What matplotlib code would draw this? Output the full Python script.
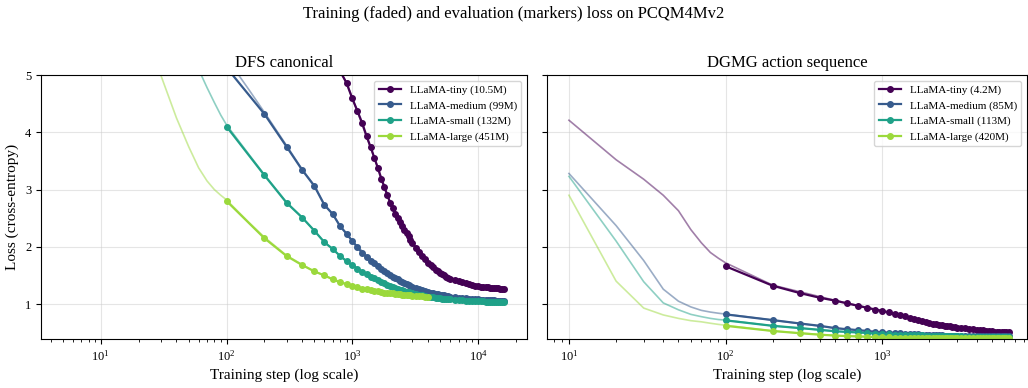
import numpy as np
import matplotlib
matplotlib.use("Agg")
import matplotlib.pyplot as plt

plt.rcParams["font.family"] = ["Liberation Serif", "DejaVu Serif"]
plt.rcParams["mathtext.fontset"] = "stix"

# ---- DFS canonical (left) ----
dfs_labels = ["LLaMA-tiny (10.5M)", "LLaMA-medium (99M)", "LLaMA-small (132M)", "LLaMA-large (451M)"]

dfs_train_steps = [10, 20, 30, 40, 50, 60, 70, 80, 90, 100, 150, 200, 300, 400, 500, 600, 700, 800, 900,
                   1000, 1500, 2000, 3000, 4000, 5000, 7000, 10000, 16000]
dfs_train_tiny = [10.5, 9.8, 9.2, 8.8, 8.4, 8.1, 7.8, 7.6, 7.4, 7.2, 6.7, 6.4, 5.9, 5.6, 5.4, 5.25, 5.15, 5.05,
                  4.87, 4.6, 3.55, 2.78, 2.07, 1.72, 1.55, 1.40, 1.31, 1.27]
dfs_train_medium = [10.3, 9.4, 8.7, 8.1, 7.6, 7.1, 6.6, 6.1, 5.7, 5.3, 4.75, 4.35, 3.77, 3.35, 3.07, 2.74,
                    2.57, 2.36, 2.23, 2.10, 1.71, 1.51, 1.30, 1.21, 1.16, 1.11, 1.08, 1.06]
dfs_train_small = [10.0, 8.6, 7.4, 6.4, 5.6, 5.1, 4.78, 4.52, 4.3, 4.13, 3.62, 3.26, 2.78, 2.51, 2.28, 2.08,
                   1.96, 1.84, 1.75, 1.68, 1.45, 1.31, 1.19, 1.13, 1.10, 1.07, 1.05, 1.035]
dfs_train_large = [9.0, 6.6, 5.0, 4.25, 3.75, 3.38, 3.15, 3.0, 2.9, 2.82, 2.43, 2.17, 1.85, 1.69, 1.57, 1.50,
                   1.44, 1.39, 1.35, 1.32, 1.235, 1.19, 1.15, 1.13]

dfs_eval_steps = (list(range(100, 3001, 100)) + list(range(3200, 6001, 200))
                  + list(range(6500, 16001, 500)))
dfs_eval_tiny = [7.3, 6.5, 6.0, 5.7, 5.5, 5.33, 5.2, 5.07, 4.86, 4.59, 4.37, 4.16, 3.93, 3.74, 3.55, 3.37,
                 3.19, 3.04, 2.90, 2.77, 2.67, 2.58, 2.50, 2.43, 2.37, 2.30, 2.24, 2.18, 2.12, 2.07,
                 1.98, 1.91, 1.84, 1.78, 1.72, 1.68, 1.64, 1.60, 1.57, 1.54, 1.52, 1.50, 1.48, 1.46, 1.445,
                 1.42, 1.40, 1.38, 1.36, 1.345, 1.33, 1.32, 1.31, 1.305, 1.30, 1.295, 1.29, 1.285, 1.28,
                 1.28, 1.275, 1.275, 1.27, 1.27, 1.27]
dfs_eval_medium = [5.13, 4.32, 3.75, 3.34, 3.06, 2.73, 2.57, 2.36, 2.23, 2.10, 1.99, 1.89, 1.82, 1.76, 1.71,
                   1.66, 1.62, 1.58, 1.545, 1.51, 1.48, 1.455, 1.43, 1.41, 1.39, 1.37, 1.35, 1.335, 1.32, 1.305,
                   1.28, 1.26, 1.24, 1.225, 1.21, 1.20, 1.19, 1.18, 1.17, 1.16, 1.155, 1.15, 1.14, 1.135, 1.13,
                   1.12, 1.11, 1.105, 1.10, 1.095, 1.09, 1.085, 1.08, 1.078, 1.075, 1.072, 1.07, 1.068, 1.066,
                   1.064, 1.062, 1.061, 1.06, 1.06, 1.06]
dfs_eval_small = [4.10, 3.25, 2.77, 2.51, 2.28, 2.08, 1.96, 1.84, 1.75, 1.68, 1.62, 1.56, 1.52, 1.48, 1.45,
                  1.42, 1.39, 1.36, 1.335, 1.31, 1.295, 1.28, 1.265, 1.25, 1.24, 1.23, 1.215, 1.205, 1.195, 1.19,
                  1.175, 1.16, 1.15, 1.14, 1.13, 1.125, 1.12, 1.11, 1.105, 1.10, 1.095, 1.09, 1.087, 1.084, 1.08,
                  1.075, 1.07, 1.066, 1.062, 1.059, 1.056, 1.053, 1.05, 1.048, 1.046, 1.044, 1.042, 1.041, 1.04,
                  1.039, 1.038, 1.037, 1.036, 1.035, 1.035]
dfs_eval_large_steps = list(range(100, 3001, 100)) + list(range(3200, 4001, 200))
dfs_eval_large = [2.80, 2.15, 1.84, 1.68, 1.57, 1.50, 1.43, 1.38, 1.35, 1.31, 1.29, 1.27, 1.255, 1.24, 1.23,
                  1.22, 1.21, 1.20, 1.195, 1.19, 1.185, 1.18, 1.175, 1.17, 1.165, 1.16, 1.157, 1.154, 1.151,
                  1.148, 1.143, 1.139, 1.135, 1.132, 1.13]

# ---- DGMG action sequence (right) ----
dgmg_labels = ["LLaMA-tiny (4.2M)", "LLaMA-medium (85M)", "LLaMA-small (113M)", "LLaMA-large (420M)"]

dgmg_train_steps = [10, 20, 30, 40, 50, 60, 70, 80, 90, 100, 200, 500, 1000, 2000, 6400]
dgmg_train_tiny = [4.21, 3.52, 3.18, 2.90, 2.63, 2.30, 2.07, 1.90, 1.80, 1.72, 1.33, 1.065, 0.88, 0.675, 0.51]
dgmg_train_medium = [3.28, 2.37, 1.76, 1.26, 1.05, 0.95, 0.89, 0.86, 0.84, 0.825, 0.72, 0.58, 0.505, 0.46, 0.435]
dgmg_train_small = [3.23, 2.10, 1.39, 1.02, 0.90, 0.82, 0.78, 0.75, 0.73, 0.72, 0.62, 0.525, 0.477, 0.448, 0.425]
dgmg_train_large = [2.90, 1.40, 0.93, 0.81, 0.75, 0.71, 0.69, 0.665, 0.645, 0.63, 0.53, 0.45, 0.42, 0.409, 0.40]

dgmg_eval_steps = list(range(100, 3001, 100)) + list(range(3200, 6401, 200))
dgmg_eval_tiny = [1.66, 1.32, 1.19, 1.11, 1.06, 1.01, 0.97, 0.935, 0.905, 0.88, 0.855, 0.83, 0.81, 0.79, 0.76,
                  0.745, 0.725, 0.705, 0.69, 0.675, 0.66, 0.65, 0.64, 0.63, 0.62, 0.615, 0.61, 0.60, 0.595, 0.59,
                  0.58, 0.575, 0.565, 0.56, 0.55, 0.545, 0.54, 0.535, 0.53, 0.525, 0.52, 0.518, 0.515, 0.513,
                  0.511, 0.51, 0.51]
dgmg_eval_medium = [0.82, 0.72, 0.66, 0.62, 0.58, 0.56, 0.545, 0.53, 0.515, 0.505, 0.50, 0.495, 0.49, 0.485,
                    0.48, 0.475, 0.47, 0.467, 0.463, 0.46, 0.458, 0.456, 0.454, 0.452, 0.45, 0.449, 0.448, 0.447,
                    0.446, 0.445, 0.444, 0.443, 0.442, 0.441, 0.44, 0.44, 0.439, 0.439, 0.438, 0.438, 0.437,
                    0.437, 0.437, 0.436, 0.436, 0.436, 0.435]
dgmg_eval_small = [0.715, 0.62, 0.58, 0.55, 0.525, 0.513, 0.505, 0.495, 0.485, 0.477, 0.472, 0.468, 0.465,
                   0.462, 0.459, 0.456, 0.454, 0.452, 0.45, 0.448, 0.446, 0.445, 0.443, 0.442, 0.44, 0.439,
                   0.438, 0.437, 0.436, 0.435, 0.434, 0.433, 0.432, 0.431, 0.43, 0.43, 0.429, 0.429, 0.428,
                   0.428, 0.427, 0.427, 0.426, 0.426, 0.425, 0.425, 0.425]
dgmg_eval_large = [0.62, 0.53, 0.49, 0.465, 0.45, 0.44, 0.435, 0.43, 0.425, 0.42, 0.418, 0.416, 0.415, 0.414,
                   0.413, 0.412, 0.411, 0.41, 0.41, 0.409, 0.408, 0.408, 0.407, 0.407, 0.406, 0.406, 0.405,
                   0.405, 0.404, 0.404, 0.403, 0.403, 0.402, 0.402, 0.401, 0.401, 0.401, 0.40, 0.40, 0.40,
                   0.40, 0.40, 0.40, 0.40, 0.40, 0.40, 0.40]

colors = plt.cm.viridis(np.linspace(0, 0.85, 4))

panels = [
    ("DFS canonical", dfs_labels,
     [(dfs_train_steps, dfs_train_tiny), (dfs_train_steps, dfs_train_medium),
      (dfs_train_steps, dfs_train_small), (dfs_train_steps[:len(dfs_train_large)], dfs_train_large)],
     [(dfs_eval_steps, dfs_eval_tiny), (dfs_eval_steps, dfs_eval_medium),
      (dfs_eval_steps, dfs_eval_small), (dfs_eval_large_steps, dfs_eval_large)],
     (3.35, 24500)),
    ("DGMG action sequence", dgmg_labels,
     [(dgmg_train_steps, dgmg_train_tiny), (dgmg_train_steps, dgmg_train_medium),
      (dgmg_train_steps, dgmg_train_small), (dgmg_train_steps, dgmg_train_large)],
     [(dgmg_eval_steps, dgmg_eval_tiny), (dgmg_eval_steps, dgmg_eval_medium),
      (dgmg_eval_steps, dgmg_eval_small), (dgmg_eval_steps, dgmg_eval_large)],
     (7.24, 8400)),
]

W, H = 1028, 388
fig, axes = plt.subplots(1, 2, figsize=(W / 100, H / 100), dpi=100, sharey=True)
boxes = [(41, 527), (547, 1027)]
for ax, (x0, x1) in zip(axes, boxes):
    ax.set_position([x0 / W, 1 - 339 / H, (x1 - x0) / W, (339 - 75) / H])

for ax, (title, labels, trains, evals, xlim) in zip(axes, panels):
    for i in range(4):
        ts, tv = trains[i]
        ax.plot(ts, tv, color=colors[i], lw=1.2, alpha=0.5)
        es, ev = evals[i]
        ax.plot(es, ev, color=colors[i], lw=1.6, marker="o", markersize=4, label=labels[i])
    ax.set_xscale("log")
    ax.set_xlim(*xlim)
    ax.set_ylim(0.39, 5)
    ax.set_title(title, fontsize=12)
    ax.set_xlabel("Training step (log scale)", fontsize=11)
    ax.grid(True, which="major", color="#cccccc", alpha=0.5, lw=0.8)
    ax.tick_params(labelsize=9)
    ax.legend(loc="upper right", fontsize=8)

axes[0].set_ylabel("Loss (cross-entropy)", fontsize=11)
axes[0].set_yticks([1, 2, 3, 4, 5])
fig.suptitle("Training (faded) and evaluation (markers) loss on PCQM4Mv2", fontsize=12, y=0.985)

fig.savefig("out.png", dpi=100)
